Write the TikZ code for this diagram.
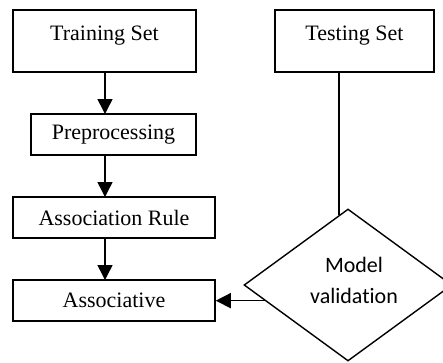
\documentclass[tikz,border=0pt]{standalone}
\usepackage{fontspec}
\setmainfont{Liberation Serif}
\newfontfamily\calib[RawFeature={-liga}]{Carlito}
\usetikzlibrary{shapes.geometric,arrows.meta,calc}
\begin{document}
\begin{tikzpicture}[x=1pt,y=-1pt,
  box/.style={draw=black,line width=1.5pt,rectangle,inner sep=0pt,font=\fontsize{22}{26}\selectfont},
  topbox/.style={box,text height=15pt,text depth=16pt},
  arr/.style={line width=1.5pt,-{Triangle[width=15pt,length=15pt]}},
  conn/.style={line width=1.4pt}]
\useasboundingbox (0,0) rectangle (443,362);
\node[topbox,minimum width=183pt,minimum height=62pt] (train) at (104.5,41) {Training Set};
\node[topbox,minimum width=159pt,minimum height=62pt] (test) at (354.5,41) {Testing Set};
\node[box,minimum width=165pt,minimum height=41pt] (pre) at (113.5,134.5) {Preprocessing};
\node[box,minimum width=202pt,minimum height=41pt] (rule) at (114,217.5) {Association Rule};
\node[box,minimum width=202pt,minimum height=41pt] (assoc) at (114,300.5) {Associative};
\node[draw=black,line width=1.4pt,diamond,inner sep=0pt,minimum width=208pt,minimum height=152pt] (val) at (348,285) {};
\node[align=center,font=\calib\fontsize{22}{31}\selectfont,inner sep=0pt] (valtxt) at (354,280) {Model\\validation};
\draw[arr] (105,72) -- (105,114);
\draw[arr] (105,155) -- (105,197);
\draw[arr] (105,238) -- (105,280);
\coordinate (tt) at ([xshift=-15.5pt]test.south);
\coordinate (tv) at ($(val.north)!0.0865!(val.west)$);
\draw[conn] (tt) -- (tt |- tv);
\coordinate (vs) at ($(val.west)!0.204!(val.south)$);
\draw[arr] (vs) -- (vs -| assoc.east);
\end{tikzpicture}
\end{document}
